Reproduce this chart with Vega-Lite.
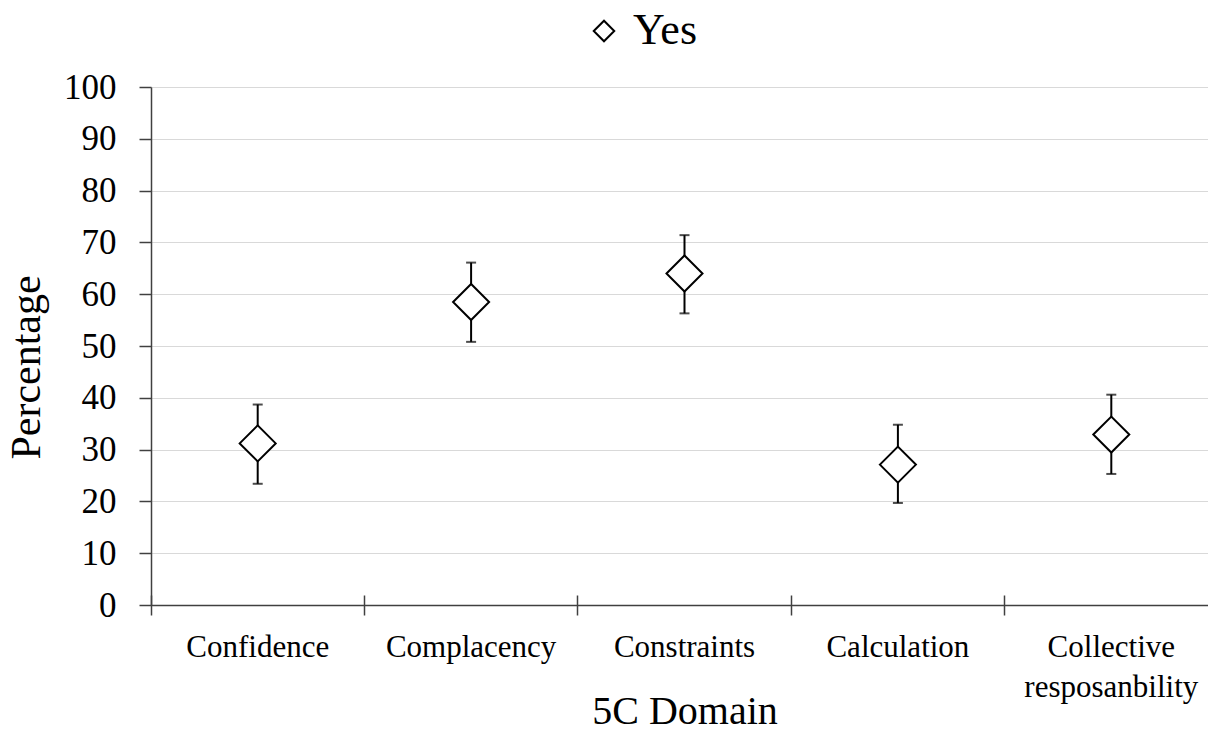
{
  "$schema": "https://vega.github.io/schema/vega-lite/v6.json",
  "width": 1067,
  "height": 518,
  "autosize": "none",
  "padding": {"left": 151, "top": 87, "right": 0, "bottom": 126},
  "background": "white",
  "config": {
    "view": {"stroke": null},
    "font": "Liberation Serif"
  },
  "data": {
    "values": [
      {"domain": "Confidence", "series": "Yes", "value": 31.2, "low": 23.4, "high": 38.7},
      {"domain": "Complacency", "series": "Yes", "value": 58.5, "low": 50.8, "high": 66.1},
      {"domain": "Constraints", "series": "Yes", "value": 64.0, "low": 56.3, "high": 71.4},
      {"domain": "Calculation", "series": "Yes", "value": 27.1, "low": 19.7, "high": 34.8},
      {"domain": "Collective resposanbility", "series": "Yes", "value": 32.9, "low": 25.3, "high": 40.6}
    ]
  },
  "encoding": {
    "x": {
      "field": "domain",
      "type": "nominal",
      "sort": null,
      "scale": {"paddingInner": 0, "paddingOuter": 0},
      "axis": {
        "title": "5C Domain",
        "titleFont": "Liberation Serif",
        "titleFontSize": 40,
        "titleFontWeight": "normal",
        "titleColor": "#000000",
        "titleBaseline": "alphabetic",
        "titleY": 128,
        "labelAngle": 0,
        "labelFont": "Liberation Serif",
        "labelFontSize": 31,
        "labelColor": "#000000",
        "labelBaseline": "top",
        "labelPadding": 17,
        "labelLineHeight": 40,
        "labelExpr": "datum.label == 'Collective resposanbility' ? ['Collective', 'resposanbility'] : datum.label",
        "domain": false,
        "offset": -10,
        "ticks": true,
        "tickSize": 20,
        "tickColor": "#404040",
        "tickWidth": 1.5,
        "bandPosition": 0,
        "grid": false
      }
    }
  },
  "layer": [
    {
      "mark": {"type": "rule", "color": "#000000", "strokeWidth": 2},
      "encoding": {
        "y": {
          "field": "low",
          "type": "quantitative",
          "scale": {"domain": [0, 100], "nice": false},
          "axis": {
            "title": "Percentage",
            "titleFont": "Liberation Serif",
            "titleFontSize": 42,
            "titleFontWeight": "normal",
            "titleColor": "#000000",
            "titleAngle": -90,
            "titleAlign": "center",
            "titleBaseline": "alphabetic",
            "titleX": -112,
            "titleY": 280,
            "values": [0, 10, 20, 30, 40, 50, 60, 70, 80, 90, 100],
            "labelFont": "Liberation Serif",
            "labelFontSize": 35,
            "labelColor": "#000000",
            "labelPadding": 23,
            "tickSize": 12,
            "tickColor": "#404040",
            "tickWidth": 1.5,
            "domainColor": "#404040",
            "domainWidth": 1.5,
            "grid": true,
            "gridColor": {"condition": {"test": "datum.value === 0", "value": "#404040"}, "value": "#d9d9d9"},
            "gridWidth": {"condition": {"test": "datum.value === 0", "value": 1.5}, "value": 1.2}
          }
        },
        "y2": {"field": "high"}
      }
    },
    {
      "mark": {"type": "tick", "color": "#000000", "size": 10, "thickness": 2},
      "encoding": {"y": {"field": "low", "type": "quantitative"}}
    },
    {
      "mark": {"type": "tick", "color": "#000000", "size": 10, "thickness": 2},
      "encoding": {"y": {"field": "high", "type": "quantitative"}}
    },
    {
      "mark": {"type": "point", "shape": "diamond", "filled": true, "color": "#ffffff", "opacity": 1, "size": 1296},
      "encoding": {
        "y": {"field": "value", "type": "quantitative"}
      }
    },
    {
      "mark": {"type": "point", "filled": false, "color": "#000000", "strokeWidth": 2, "size": 1296, "opacity": 1},
      "encoding": {
        "y": {"field": "value", "type": "quantitative"},
        "shape": {
          "field": "series",
          "type": "nominal",
          "scale": {"range": ["diamond"]},
          "legend": {
            "title": null,
            "orient": "none",
            "legendX": 431,
            "legendY": -78,
            "padding": 0,
            "direction": "horizontal",
            "labelFont": "Liberation Serif",
            "labelFontSize": 44,
            "labelColor": "#000000",
            "labelOffset": 7,
            "symbolSize": 420,
            "symbolType": "diamond",
            "symbolStrokeColor": "#000000",
            "symbolStrokeWidth": 2,
            "symbolOpacity": 1
          }
        }
      }
    }
  ]
}
